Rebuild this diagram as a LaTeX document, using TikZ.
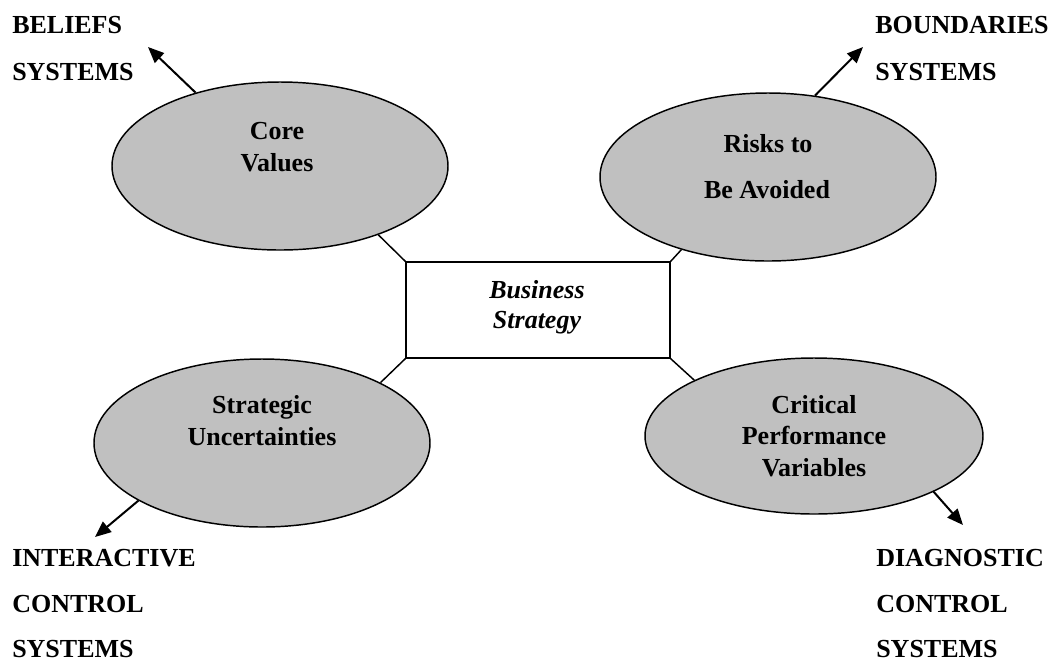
\documentclass[tikz,border=0pt]{standalone}
\usepackage{fontspec}
\setmainfont{Liberation Serif}
\usetikzlibrary{arrows.meta,shapes.geometric}
\begin{document}
\begin{tikzpicture}[x=0.75pt,y=-0.75pt,
  ell/.style={ellipse,draw=black,line width=1.1pt,fill=ellgray,inner sep=0pt},
  txt/.style={anchor=base,inner sep=0pt,font=\fontsize{19.5}{22}\selectfont\bfseries},
  lab/.style={anchor=base west,inner sep=0pt,font=\fontsize{19.5}{22}\selectfont\bfseries},
  itx/.style={anchor=base,inner sep=0pt,font=\fontsize{19.5}{22}\selectfont\bfseries\itshape},
  conn/.style={draw=black,line width=1.1pt},
  outarrow/.style={draw=black,line width=1.5pt,-{Triangle[length=12pt,width=10pt]}}
]
\definecolor{ellgray}{RGB}{192,192,192}
\useasboundingbox (0,0) rectangle (1057,662);
% center box
\node[draw=black,line width=1.1pt,minimum width=264*0.75pt,minimum height=96*0.75pt,inner sep=0pt] (r) at (538,310) {};
\node[itx] (b1) at (537,298) {Business};
\node[itx] (b2) at (537,328) {Strategy};
% ellipses
\node[ell,minimum width=336*0.75pt,minimum height=168*0.75pt] (e1) at (280,166) {};
\node[ell,minimum width=336*0.75pt,minimum height=168*0.75pt] (e2) at (768,177) {};
\node[ell,minimum width=336*0.75pt,minimum height=168*0.75pt] (e3) at (262,443) {};
\node[ell,minimum width=338*0.75pt,minimum height=156*0.75pt] (e4) at (814,436) {};
% ellipse texts
\node[txt] (c1) at (277,139) {Core};
\node[txt] (c2) at (277,171) {Values};
\node[txt] (r1) at (768,152) {Risks to};
\node[txt] (r2) at (767,198) {Be Avoided};
\node[txt] (s1) at (262,413) {Strategic};
\node[txt] (s2) at (262,445) {Uncertainties};
\node[txt] (p1) at (814,413) {Critical};
\node[txt] (p2) at (814,444) {Performance};
\node[txt] (p3) at (814,476) {Variables};
% connectors
\draw[conn] (r.north west) -- (e1.-35);
\draw[conn] (r.north east) -- (e2.-140);
\draw[conn] (r.south west) -- (e3.27);
\draw[conn] (r.south east) -- (e4.155);
% outer labels
\node[lab] (l1) at (12,33) {BELIEFS};
\node[lab] (l2) at (12,80) {SYSTEMS};
\node[lab] (l3) at (875,33) {BOUNDARIES};
\node[lab] (l4) at (875,80) {SYSTEMS};
\node[lab] (l5) at (12,566) {INTERACTIVE};
\node[lab] (l6) at (12,612) {CONTROL};
\node[lab] (l7) at (12,657) {SYSTEMS};
\node[lab] (l8) at (876,566) {DIAGNOSTIC};
\node[lab] (l9) at (876,612) {CONTROL};
\node[lab] (l10) at (876,657) {SYSTEMS};
% arrows
\coordinate (a1) at (148,47);
\coordinate (a2) at (863,47);
\coordinate (a3) at (95,537);
\coordinate (a4) at (963,525);
\draw[outarrow] (e1.139) -- (a1);
\draw[outarrow] (e2.60) -- (a2);
\draw[outarrow] (e3.-155) -- (a3);
\draw[outarrow] (e4.-25) -- (a4);
\end{tikzpicture}
\end{document}
